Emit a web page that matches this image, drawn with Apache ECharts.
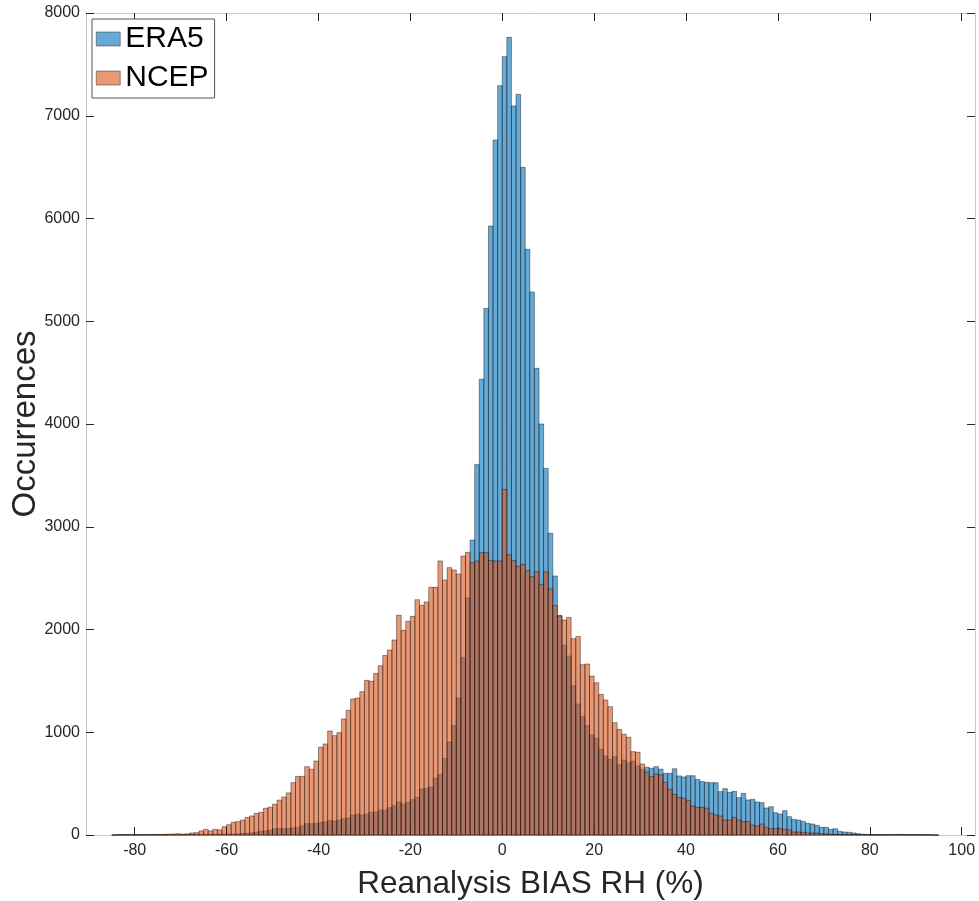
<!DOCTYPE html>
<html>
<head>
<meta charset="utf-8">
<script src="https://cdn.jsdelivr.net/npm/echarts@6/dist/echarts.min.js"></script>
<style>
  html, body { margin: 0; padding: 0; background: #fff; }
  #main { width: 979px; height: 901px; }
</style>
</head>
<body>
<div id="main"></div>
<script>
// histogram bins: width 1, first bin starts at -85
var binStart = -85;
var binWidth = 1;

// ERA5 counts per bin, from -85 upward
var era5Counts = [
  0, 2, 3, 3, 2, 3, 3, 3, 3, 3, 3, 3, 3,               // -85 .. -73
  3, 3, 4, 4, 5, 5, 6, 6, 7, 8, 8, 9, 10,              // -72 .. -60
  10, 12, 15, 18, 22, 28, 35, 40, 48, 60,              // -59 .. -50
  62, 62, 65, 70, 72, 90, 110, 110, 112, 122,          // -49 .. -40
  128, 140, 136, 146, 159, 165, 195, 204, 195, 204,    // -39 .. -30
  220, 223, 243, 243, 266, 285, 321, 302, 318, 344,    // -29 .. -20
  367, 448, 454, 467, 552, 590, 746, 905, 1064, 1333,  // -19 .. -10
  1726, 2306, 2871, 3607, 4435, 5125, 5927, 6764, 7293, // -9 .. -1
  7575, 7763, 7095, 7208, 6498, 5700, 5285, 4542, 4000, 3568, // 0 .. 9
  2936, 2521, 2138, 1849, 1742, 1453, 1275, 1152, 1064, 973,  // 10 .. 19
  941, 837, 769, 737, 762, 684, 730, 704, 720, 671,    // 20 .. 29
  640, 659, 649, 665, 640, 600, 600, 645, 575, 565,    // 30 .. 39
  577, 577, 540, 520, 513, 509, 509, 422, 451, 415,    // 40 .. 49
  425, 363, 405, 341, 347, 321, 315, 263, 276, 217,    // 50 .. 59
  204, 237, 178, 152, 146, 133, 114, 107, 94, 75,      // 60 .. 69
  75, 55, 61, 36, 29, 26, 20, 13, 7, 5,                // 70 .. 79
  4, 4, 3, 3, 3, 3, 3, 3, 3, 3, 3, 3, 3, 2, 0          // 80 .. 94
];

// NCEP counts per bin, from -85 upward
var ncepCounts = [
  0, 2, 3, 3, 2, 3, 3, 4, 3, 4, 5, 6, 8,               // -85 .. -73
  10, 12, 8, 12, 20, 23, 40, 55, 40, 55, 50, 80, 100,  // -72 .. -60
  125, 130, 145, 170, 185, 210, 220, 260, 270, 300,    // -59 .. -50
  340, 370, 410, 510, 570, 570, 665, 640, 720, 855,    // -49 .. -40
  886, 1012, 967, 996, 1129, 1213, 1324, 1333, 1395, 1505, // -39 .. -30
  1496, 1573, 1648, 1748, 1800, 1898, 2138, 1992, 2080, 2128, // -29 .. -20
  2290, 2235, 2268, 2410, 2410, 2667, 2482, 2602, 2579, 2540, // -19 .. -10
  2715, 2751, 2650, 2667, 2748, 2748, 2673, 2667, 2667, // -9 .. -1
  3364, 2728, 2670, 2615, 2634, 2572, 2514, 2563, 2440, 2560, // 0 .. 9
  2394, 2232, 2130, 2092, 2118, 1911, 1933, 1658, 1664, 1547, // 10 .. 19
  1482, 1369, 1314, 1249, 1093, 1028, 980, 951, 811, 805,     // 20 .. 29
  691, 613, 568, 594, 584, 513, 444, 396, 367, 357,    // 30 .. 39
  334, 282, 269, 269, 260, 211, 195, 185, 146, 146,    // 40 .. 49
  172, 146, 130, 130, 97, 88, 107, 75, 62, 62,         // 50 .. 59
  62, 55, 49, 29, 29, 26, 20, 20, 20, 13,              // 60 .. 69
  10, 7, 5, 5, 4, 3, 3, 2, 2, 2,                       // 70 .. 79
  2, 2, 2, 2, 3, 4, 6, 3, 2, 2, 2, 1, 1, 1, 0          // 80 .. 94
];

var xTicks = [-80, -60, -40, -20, 0, 20, 40, 60, 80, 100];
var xMin = -90.6;
var xMax = 102.9;

function toBins(counts) {
  return counts.map(function (c, i) {
    var left = binStart + i * binWidth;
    return [left, left + binWidth, c];
  });
}

var chart = echarts.init(document.getElementById('main'), null, { renderer: 'canvas' });

function renderBar(params, api) {
  var p0 = api.coord([api.value(0), 0]);
  var p1 = api.coord([api.value(1), api.value(2)]);
  return {
    type: 'rect',
    shape: { x: p0[0], y: p1[1], width: p1[0] - p0[0], height: p0[1] - p1[1] },
    style: api.style({ stroke: 'rgba(0,0,0,0.8)', lineWidth: 0.5 })
  };
}

var font = "'Liberation Sans', Arial, Helvetica, sans-serif";

var option = {
  animation: false,
  grid: { left: 86, right: 4, top: 13, bottom: 66, containLabel: false, outerBoundsMode: 'none' },
  legend: {
    left: 92,
    top: 19,
    orient: 'vertical',
    itemWidth: 24,
    itemHeight: 14,
    itemGap: 9,
    padding: [5, 6, 5, 4],
    borderColor: '#555',
    borderWidth: 1,
    backgroundColor: '#fff',
    textStyle: { fontFamily: font, fontSize: 30, color: '#000', lineHeight: 30 },
    data: [
      { name: 'ERA5', icon: 'rect', itemStyle: { color: 'rgba(0,114,189,0.6)', borderColor: '#333', borderWidth: 0.5 } },
      { name: 'NCEP', icon: 'rect', itemStyle: { color: 'rgba(217,83,25,0.6)', borderColor: '#333', borderWidth: 0.5 } }
    ]
  },
  xAxis: [{
    type: 'value',
    min: xMin,
    max: xMax,
    name: 'Reanalysis BIAS RH (%)',
    nameLocation: 'middle',
    nameGap: 33,
    nameTextStyle: { fontFamily: font, fontSize: 31.5, color: '#262626' },
    axisLine: { show: true, onZero: false, lineStyle: { color: '#c8c8c8', width: 1 } },
    axisTick: { show: true, inside: true, length: 8, lineStyle: { color: '#262626' }, customValues: xTicks },
    axisLabel: { fontFamily: font, fontSize: 16, color: '#262626', margin: 8, customValues: xTicks },
    splitLine: { show: false }
  }, {
    type: 'value',
    position: 'top',
    min: xMin,
    max: xMax,
    axisLine: { show: true, onZero: false, lineStyle: { color: '#c8c8c8', width: 1 } },
    axisTick: { show: true, inside: true, length: 8, lineStyle: { color: '#262626' }, customValues: xTicks },
    axisLabel: { show: false },
    splitLine: { show: false }
  }],
  yAxis: [{
    type: 'value',
    min: 0,
    max: 8000,
    interval: 1000,
    name: 'Occurrences',
    nameLocation: 'middle',
    nameGap: 44,
    nameMoveOverlap: false,
    nameTextStyle: { fontFamily: font, fontSize: 33, color: '#262626' },
    axisLine: { show: true, onZero: false, lineStyle: { color: '#c8c8c8', width: 1 } },
    axisTick: { show: true, inside: true, length: 8, lineStyle: { color: '#262626' } },
    axisLabel: { fontFamily: font, fontSize: 16, color: '#262626', margin: 6, formatter: function (v) { return String(v); } },
    splitLine: { show: false }
  }, {
    type: 'value',
    position: 'right',
    min: 0,
    max: 8000,
    interval: 1000,
    axisLine: { show: true, onZero: false, lineStyle: { color: '#c8c8c8', width: 1 } },
    axisTick: { show: true, inside: true, length: 8, lineStyle: { color: '#262626' } },
    axisLabel: { show: false },
    splitLine: { show: false }
  }],
  series: [{
    name: 'ERA5',
    type: 'custom',
    renderItem: renderBar,
    itemStyle: { color: 'rgba(0,114,189,0.6)' },
    encode: { x: [0, 1], y: 2 },
    data: toBins(era5Counts)
  }, {
    name: 'NCEP',
    type: 'custom',
    renderItem: renderBar,
    itemStyle: { color: 'rgba(217,83,25,0.6)' },
    encode: { x: [0, 1], y: 2 },
    data: toBins(ncepCounts)
  }]
};

chart.setOption(option);
</script>
</body>
</html>
